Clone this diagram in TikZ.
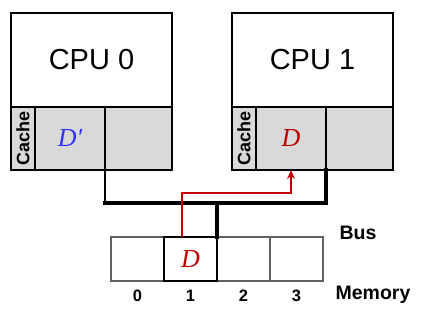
\documentclass[tikz,border=0pt]{standalone}
\usepackage{fontspec}
\usetikzlibrary{arrows.meta}
\newfontfamily\arialfont{Liberation Sans}
\newfontfamily\timesfont{Liberation Serif}
\definecolor{figink}{HTML}{000000}
\definecolor{figcache}{HTML}{D9D9D9}
\definecolor{figgrid}{HTML}{606060}
\definecolor{figred}{HTML}{C00000}
\definecolor{figblue}{HTML}{3333FF}

\begin{document}
\begin{tikzpicture}[x=1pt, y=-1pt, line cap=rect, line join=miter,
    cpubox/.style={draw=figink, line width=1.5pt, fill=white, inner sep=0pt, outer sep=0pt,
      minimum width=161pt, minimum height=94pt, font=\arialfont\fontsize{29}{32}\selectfont},
    cachecell/.style={draw=figink, line width=1.5pt, fill=figcache, inner sep=0pt, outer sep=0pt,
      minimum height=63pt},
    memcell/.style={draw=figgrid, line width=1.5pt, inner sep=0pt, outer sep=0pt,
      minimum width=53pt, minimum height=44pt},
    tag/.style={font=\arialfont\bfseries\fontsize{19.5}{22}\selectfont},
    idx/.style={font=\arialfont\bfseries\fontsize{16.5}{18}\selectfont},
    val/.style={font=\timesfont\itshape\fontsize{26}{28}\selectfont}]
  \useasboundingbox (0,0) rectangle (422,319);

  % 两个 CPU：上面是处理器本体，下面一排是缓存
  \foreach \k/\xl in {0/11, 1/232} {
    \node[cpubox] (cpu\k) at ({\xl+80.5},60) {CPU \k};
    \node[cachecell, minimum width=24pt] (tag\k) at ({\xl+12},138.5)
      {\rotatebox{90}{\arialfont\bfseries\fontsize{18}{20}\selectfont Cache}};
    \node[cachecell, minimum width=70pt, anchor=west] (line\k) at (tag\k.east) {};
    \node[cachecell, minimum width=67pt, anchor=west] (spare\k) at (line\k.east) {};
  }
  \node[val, text=figblue] at (line0) {D′};
  \node[val, text=figred]  at (line1) {D};

  % 内存：四个单元，1 号存着 D
  \foreach \i in {0,...,3} {
    \node[memcell] (mem\i) at ({137.5+53*\i},259) {};
    \node[idx] (num\i) at ({137.5+53*\i},296) {\i};
  }
  \draw[figink, line width=1.5pt] (mem1.north west) rectangle (mem1.south east);
  \node[val, text=figred] at (mem1) {D};

  % 总线及其支路
  \coordinate (busL) at (line0.south east |- 0,203);
  \coordinate (busR) at (line1.south east |- 0,203);
  \coordinate (busM) at (mem1.north east |- 0,203);
  \draw[figink, line width=1.5pt] (line0.south east) -- (busL);
  \draw[figink, line width=3.5pt] (busL) -- (busR) -- (line1.south east);
  \draw[figink, line width=3.5pt] (busM) -- (mem1.north east);

  % 数据 D 从内存读到 CPU 1 的缓存
  \coordinate (src) at (182,237);
  \coordinate (dst) at (line1.south);
  \draw[figred, line width=1.3pt, line cap=butt, -{Stealth[length=9pt, width=8pt, inset=3pt]}]
    (src) -- (182,193) -| (dst);

  \node[tag] (bus) at (358,233) {Bus};
  \node[tag] (memory) at (373,295) {Memory};
\end{tikzpicture}
\end{document}
